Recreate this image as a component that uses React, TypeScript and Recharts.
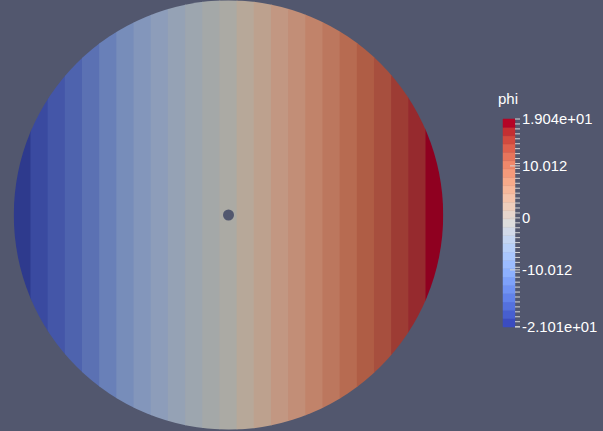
import { BarChart, Bar, Cell, XAxis, YAxis, ReferenceDot, ComposedChart, ReferenceArea } from "recharts";

const BG = "#52576E";
const FONT = "'Liberation Sans', Arial, sans-serif";

// phi range of the field / colour map
const PHI_MIN = -21.01;
const PHI_MAX = 19.04;

// 25 discrete bins of the colour map, left (low) to right (high)
const bins = [0, 1, 2, 3, 4, 5, 6, 7, 8, 9, 10, 11, 12, 13, 14, 15, 16, 17, 18, 19, 20, 21, 22, 23, 24];

// shaded colours as they appear on the disk
const diskColors = [
  "#2E3A8D", "#3A4AA0", "#4456A8", "#4E63AE", "#5B71B3", "#6980B8", "#778DBA", "#8396BB",
  "#8D9DBA", "#95A2B5", "#9DA6AF", "#A4A8A8", "#ABAAA4", "#B7A899", "#BDA18E", "#C29782",
  "#C28E77", "#C1836A", "#BC775E", "#B76B51", "#AF5D45", "#A74F3E", "#9D3C34", "#962A2E",
  "#8F0020",
];

// unlit colours in the scalar bar
const barColors = [
  "#3B4CC0", "#475FD0", "#5471DE", "#6282EA", "#7092F3", "#7EA1FA", "#8DB0FE", "#9CBCFF",
  "#AAC7FE", "#B8D0F9", "#C5D6F2", "#D2DAE9", "#DDDDDD", "#E7D6CD", "#EFCEBC", "#F5C4AC",
  "#F7B89B", "#F7AA8A", "#F49A7B", "#EF886B", "#E7755C", "#DE604D", "#D24A3F", "#C42F32",
  "#B40426",
];

const tickValues = [19.04, 10.012, 0, -10.012, -21.01];
const tickLabels = ["1.904e+01", "10.012", "0", "-10.012", "-2.101e+01"];
const longTicks = [10.012, 0, -10.012];
const minorTicks = Array.from({ length: 43 }, (_, i) => +(0.952 * (20 - i)).toFixed(3)).filter(
  (v) => !tickValues.includes(v)
);

const diskData = bins.map((b) => ({ bin: b, full: 1 }));
const binWidth = (PHI_MAX - PHI_MIN) / bins.length;

// disk placement in the window
const DISK_LEFT = 13.8;
const DISK_TOP = 0.3;
const DISK_D = 429.4;

// scalar bar placement
const BAR_LEFT = 503;
const BAR_RIGHT = 515;
const BAR_TOP = 119;
const BAR_BOTTOM = 327;

const BandShape = (p: any) => (
  <rect x={p.x - 0.5} y={p.y} width={p.width + 1} height={p.height} fill={p.fill} clipPath="url(#disk)" />
);

const LegendTick = (p: any) => {
  const v = p.payload.value;
  const idx = tickValues.indexOf(v);
  const long = longTicks.includes(v);
  return (
    <g>
      <line x1={long ? BAR_RIGHT - 5 : BAR_RIGHT} x2={BAR_RIGHT + 5} y1={p.y} y2={p.y} stroke="#D4D4D4" strokeWidth={1} />
      {idx >= 0 && (
        <text x={BAR_RIGHT + 7} y={p.y} dy="0.36em" fill="#FFFFFF" fontSize={14.8} fontFamily={FONT} textAnchor="start">
          {tickLabels[idx]}
        </text>
      )}
    </g>
  );
};

export default function App() {
  const W = 603;
  const H = 431;
  return (
    <div style={{ position: "absolute", left: 0, top: 0, width: W, height: H, background: BG, overflow: "hidden" }}>
      <svg width={0} height={0} style={{ position: "absolute" }}>
        <defs>
          <clipPath id="disk" clipPathUnits="userSpaceOnUse">
            <circle cx={DISK_LEFT + DISK_D / 2} cy={DISK_TOP + DISK_D / 2} r={DISK_D / 2} />
          </clipPath>
        </defs>
      </svg>
      <div style={{ position: "absolute", left: 0, top: 0 }}>
        <BarChart
          width={W}
          height={H}
          data={diskData}
          barCategoryGap={0}
          barGap={0}
          margin={{ left: DISK_LEFT, top: DISK_TOP, right: W - DISK_LEFT - DISK_D, bottom: H - DISK_TOP - DISK_D }}
        >
          <XAxis dataKey="bin" type="category" hide />
          <YAxis type="number" domain={[0, 1]} hide />
          <Bar dataKey="full" shape={BandShape} isAnimationActive={false}>
            {diskData.map((d) => (
              <Cell key={d.bin} fill={diskColors[d.bin]} />
            ))}
          </Bar>
          <ReferenceDot x={12} y={0.5} r={5.5} fill={BG} stroke="none" />
        </BarChart>
      </div>
      <div style={{ position: "absolute", left: 0, top: 0 }}>
        <ComposedChart
          width={W}
          height={H}
          data={[{ x: 0 }, { x: 1 }]}
          margin={{ left: BAR_LEFT, top: BAR_TOP, right: W - BAR_RIGHT - 80, bottom: H - BAR_BOTTOM }}
        >
          <XAxis dataKey="x" type="number" domain={[0, 1]} hide />
          <YAxis
            type="number"
            orientation="right"
            width={80}
            domain={[PHI_MIN, PHI_MAX]}
            ticks={[...minorTicks, ...tickValues]}
            interval={0}
            allowDataOverflow
            axisLine={false}
            tickLine={false}
            tick={<LegendTick />}
          />
          {bins.map((b) => (
            <ReferenceArea
              key={b}
              x1={0}
              x2={1}
              y1={PHI_MIN + b * binWidth}
              y2={PHI_MIN + (b + 1) * binWidth}
              fill={barColors[b]}
              fillOpacity={1}
              stroke={barColors[b]}
              strokeWidth={0.5}
              ifOverflow="visible"
            />
          ))}
        </ComposedChart>
      </div>
      <div style={{ position: "absolute", left: 498, top: 91, fontFamily: FONT, fontSize: 15, lineHeight: "16px", color: "#FFFFFF" }}>
        phi
      </div>
    </div>
  );
}
